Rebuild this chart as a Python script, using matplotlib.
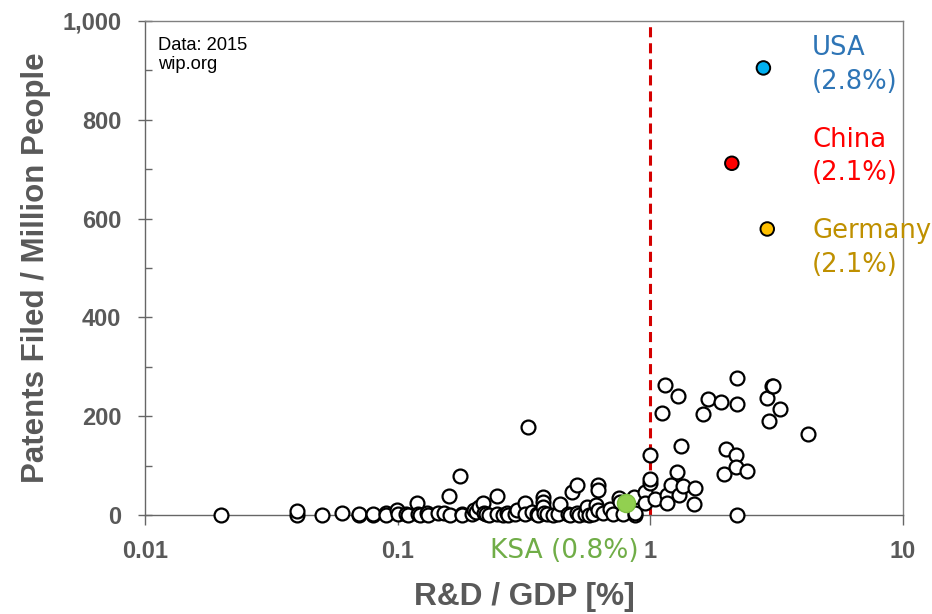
import matplotlib
matplotlib.use("Agg")
import matplotlib.pyplot as plt
from matplotlib.ticker import FixedLocator, FuncFormatter, NullLocator

# R&D spending (% of GDP) vs patents filed per million people, 2015
rd_gdp = [
    0.02, 0.04, 0.04, 0.05, 0.06, 0.07, 0.07, 0.08, 0.08, 0.09, 0.09,
    0.099, 0.1, 0.108, 0.11, 0.119, 0.12, 0.122, 0.13, 0.132, 0.145, 0.152,
    0.16, 0.161, 0.177, 0.179, 0.18, 0.197, 0.2, 0.204, 0.21, 0.218, 0.22,
    0.224, 0.23, 0.247, 0.247, 0.26, 0.27, 0.273, 0.29, 0.297,
    0.32, 0.32, 0.329, 0.34, 0.355, 0.36, 0.377, 0.377, 0.377, 0.38, 0.39,
    0.41, 0.43, 0.44, 0.47, 0.48, 0.49, 0.51, 0.51, 0.52, 0.55, 0.56, 0.57,
    0.59, 0.61, 0.62, 0.62, 0.62, 0.65, 0.69, 0.71, 0.75, 0.76, 0.78, 0.86,
    0.87, 0.87, 0.95, 0.95, 1.0, 1.0, 1.0,
    1.04, 1.11, 1.14, 1.16, 1.16, 1.21, 1.27, 1.28, 1.3, 1.32, 1.35, 1.49,
    1.5, 1.62, 1.69, 1.91, 1.95, 1.99, 2.19, 2.19, 2.2, 2.195, 2.2, 2.42,
    2.89, 2.94, 3.02, 3.06, 3.27, 4.2,
]
patents = [
    0, 0, 9, 0, 4, 0, 2, 0, 3, 5, 0,
    10, 3, 3, 0, 24, 2, 0, 4, 0, 4, 5,
    38, 0, 78, 3, 0, 3, 10, 7, 16, 24, 4,
    2, 0, 38, 3, 0, 5, 0, 3, 10,
    24, 3, 179, 7, 3, 0, 37, 27, 17, 5, 3,
    0, 3, 22, 2, 0, 47, 61, 4, 0, 2, 17, 0,
    3, 20, 61, 50, 10, 4, 13, 3, 34, 27, 3, 36,
    0, 4, 47, 24, 64, 121, 72,
    32, 206, 263, 40, 24, 61, 88, 241, 40, 140, 59, 22,
    54, 204, 234, 229, 83, 133, 121, 98, 224, 277, 0, 89,
    237, 190, 261, 262, 214, 165,
]

# Highlighted countries
hl_names = ["USA", "China", "Germany"]
hl_labels = ["(2.8%)", "(2.1%)", "(2.1%)"]
hl_rd = [2.8, 2.1, 2.9]
hl_patents = [905, 712, 579]
hl_fill = ["#00B0F0", "#FF0000", "#FFC000"]
hl_text = ["#2E75B6", "#FF0000", "#BF9000"]

ksa_rd = 0.8
ksa_patents = 24

y_ticks = [0, 200, 400, 600, 800, 1000]
y_minor = [100, 300, 500, 700, 900]
x_ticks = [0.01, 0.1, 1, 10]
x_ticklabels = ["0.01", "0.1", "1", "10"]

plt.rcParams["font.family"] = ["Liberation Sans", "DejaVu Sans"]
gray = "#595959"

fig = plt.figure(figsize=(9.32, 6.14), dpi=100)
ax = fig.add_axes([0.1556, 0.1612, 0.969 - 0.1556, 0.9658 - 0.1612])

ax.set_xscale("log")
ax.set_xlim(0.01, 10)
ax.set_ylim(0, 1000)

# threshold line at 1 %
ax.plot([1, 1], [0, 1000], color="#D40000", lw=2.2, ls=(1, (3.3, 1.95)),
        zorder=2)

ax.scatter(rd_gdp, patents, s=100, facecolors="white", edgecolors="black",
           linewidths=1.6, zorder=3, clip_on=False)

ax.scatter(hl_rd, hl_patents, s=95, c=hl_fill, edgecolors="black",
           linewidths=1.4, zorder=4, clip_on=False)
ax.scatter([ksa_rd], [ksa_patents], s=170, c="#92D050", edgecolors="#7CBF3F",
           linewidths=1.0, zorder=5, clip_on=False)

# country annotations, placed to the right of the cluster
text_y = [911, 726, 541]
for name, lab, ty, col in zip(hl_names, hl_labels, text_y, hl_text):
    ax.text(4.36, ty, name + "\n" + lab, color=col, fontsize=18.6,
            family=["DejaVu Sans"], ha="left", va="center",
            linespacing=1.38, clip_on=False)

ax.text(0.2317, -72, "KSA (0.8%)", color="#70AD47", fontsize=19,
        family=["DejaVu Sans"], ha="left", va="center", clip_on=False)

ax.text(0.01126, 931, "Data: 2015\nwip.org", fontsize=13.2, color="black",
        ha="left", va="center", linespacing=1.2)

for sp in ax.spines.values():
    sp.set_color("#808080")
    sp.set_linewidth(1.0)
ax.spines["left"].set_color("#666666")
ax.spines["bottom"].set_color("#666666")

ax.yaxis.set_major_locator(FixedLocator(y_ticks))
ax.yaxis.set_minor_locator(FixedLocator(y_minor))
ax.yaxis.set_major_formatter(FuncFormatter(lambda v, p: f"{int(v):,}"))
ax.xaxis.set_major_locator(FixedLocator(x_ticks))
ax.xaxis.set_minor_locator(NullLocator())
ax.set_xticklabels(x_ticklabels)

ax.tick_params(axis="y", which="major", direction="inout", length=10,
               width=1, color="#666666", labelsize=17, labelcolor=gray, pad=12)
ax.tick_params(axis="y", which="minor", direction="in", length=5,
               width=1, color="#666666")
ax.tick_params(axis="x", which="major", direction="out", length=7,
               width=1, color="#666666", labelsize=17, labelcolor=gray, pad=11)
for lbl in ax.get_xticklabels() + ax.get_yticklabels():
    lbl.set_fontweight("bold")

ax.set_ylabel("Patents Filed / Million People", fontsize=22.5,
              fontweight="bold", color=gray, labelpad=8)
ax.set_xlabel("R&D / GDP [%]", fontsize=22.8, fontweight="bold", color=gray,
              labelpad=14)

fig.savefig("out.png", dpi=100)
